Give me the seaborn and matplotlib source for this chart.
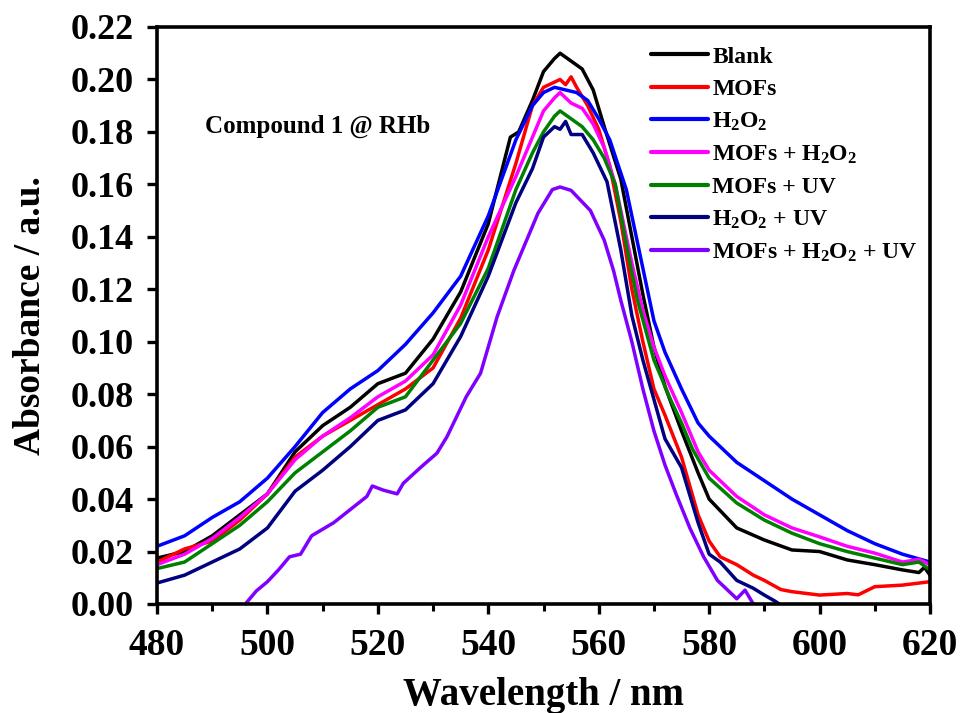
import numpy as np
import pandas as pd
import matplotlib
matplotlib.use("Agg")
import matplotlib.pyplot as plt
import seaborn as sns
from matplotlib.lines import Line2D

# ---------------- data ----------------
wl_blank = [480, 485, 490, 495, 500, 505, 510, 515, 520, 525, 530, 535, 540, 544, 545.5, 548, 550, 552, 553, 555, 557,
            559, 561, 564, 566, 568, 570, 572, 575, 578, 580, 585, 590, 595, 600, 605, 610, 615, 618, 619, 620]
abs_blank = [0.0175, 0.020, 0.026, 0.034, 0.042, 0.058, 0.068, 0.075, 0.084, 0.088, 0.101, 0.119, 0.145, 0.178, 0.180,
             0.192, 0.203, 0.208, 0.210, 0.207, 0.204, 0.196, 0.182, 0.162, 0.140, 0.118, 0.098, 0.083, 0.066, 0.050,
             0.040, 0.029, 0.0244, 0.0206, 0.020, 0.0168, 0.015, 0.013, 0.012, 0.014, 0.011]

wl_mofs = [480, 485, 490, 495, 500, 505, 510, 515, 520, 525, 530, 535, 540, 545, 548, 550, 552, 553, 554, 555, 556,
           558, 560, 562, 564, 566, 568, 570, 572, 575, 578, 580, 582, 585, 588, 590, 593, 595, 600, 605, 607, 610,
           615, 620]
abs_mofs = [0.016, 0.021, 0.024, 0.032, 0.042, 0.056, 0.064, 0.070, 0.076, 0.082, 0.090, 0.109, 0.135, 0.168, 0.190,
            0.197, 0.199, 0.200, 0.198, 0.201, 0.197, 0.190, 0.181, 0.167, 0.146, 0.120, 0.100, 0.082, 0.072, 0.056,
            0.034, 0.024, 0.018, 0.015, 0.011, 0.009, 0.0055, 0.0047, 0.0034, 0.004, 0.0035, 0.0066, 0.0072, 0.0085]

wl_h2o2 = [480, 485, 490, 495, 500, 505, 510, 515, 520, 525, 530, 535, 540, 545, 548, 550, 552, 554, 556, 558, 560,
           562, 565, 567.5, 570, 572, 575, 578, 580, 585, 590, 595, 600, 605, 610, 615, 620]
abs_h2o2 = [0.022, 0.026, 0.033, 0.039, 0.048, 0.060, 0.073, 0.082, 0.089, 0.099, 0.111, 0.125, 0.148, 0.177, 0.190,
            0.195, 0.197, 0.196, 0.195, 0.192, 0.185, 0.177, 0.158, 0.133, 0.108, 0.096, 0.082, 0.069, 0.064, 0.054,
            0.047, 0.040, 0.034, 0.028, 0.023, 0.019, 0.016]

wl_mofs_h2o2 = [480, 485, 490, 495, 500, 505, 510, 515, 520, 525, 530, 535, 540, 545, 548, 550, 552, 553, 555, 557,
                559, 561, 563, 566, 568, 570, 572, 575, 578, 580, 585, 590, 595, 600, 605, 610, 615, 618, 620]
abs_mofs_h2o2 = [0.015, 0.019, 0.025, 0.033, 0.042, 0.055, 0.064, 0.071, 0.079, 0.085, 0.095, 0.114, 0.140, 0.163,
                 0.178, 0.188, 0.193, 0.195, 0.191, 0.189, 0.183, 0.174, 0.160, 0.130, 0.112, 0.098, 0.087, 0.073,
                 0.058, 0.051, 0.041, 0.034, 0.029, 0.0256, 0.022, 0.0194, 0.016, 0.017, 0.015]

wl_mofs_uv = [480, 485, 490, 495, 500, 505, 510, 515, 520, 525, 530, 535, 540, 545, 548, 550, 552, 553, 555, 557,
              559, 561, 563, 565, 567, 570, 573, 575, 577, 580, 585, 590, 595, 600, 605, 610, 615, 618, 620]
abs_mofs_uv = [0.0135, 0.016, 0.023, 0.030, 0.039, 0.050, 0.058, 0.066, 0.075, 0.079, 0.093, 0.107, 0.128, 0.158,
               0.172, 0.180, 0.186, 0.188, 0.185, 0.182, 0.177, 0.170, 0.160, 0.137, 0.116, 0.093, 0.078, 0.069,
               0.059, 0.048, 0.0385, 0.032, 0.027, 0.023, 0.020, 0.0175, 0.015, 0.016, 0.013]

wl_h2o2_uv = [480, 485, 490, 495, 500, 505, 510, 515, 520, 525, 530, 535, 540, 545, 548, 550, 552, 553, 554, 555,
              557, 559, 561.5, 564, 566, 568, 570, 572, 575, 578, 580, 582, 585, 588, 590, 592, 594, 600, 620]
abs_h2o2_uv = [0.008, 0.011, 0.016, 0.021, 0.029, 0.043, 0.051, 0.060, 0.070, 0.074, 0.084, 0.102, 0.125, 0.153,
               0.166, 0.178, 0.182, 0.181, 0.184, 0.179, 0.179, 0.172, 0.161, 0.135, 0.110, 0.093, 0.078, 0.063,
               0.052, 0.031, 0.019, 0.016, 0.009, 0.006, 0.0034, 0.001, -0.002, -0.006, -0.010]

wl_all = [480, 485, 490, 494, 495, 496, 498, 500, 502, 504, 506, 508, 512, 515, 518, 519, 521, 523.5, 524.6, 527.7,
          530.7, 532.5, 536, 538.6, 541.6, 544.6, 546.4, 549, 551.6, 553, 555, 558.5, 561, 562.7, 564, 566, 568,
          570, 572, 574, 576.5, 579, 581.5, 584, 585, 586.5, 588, 590, 620]
abs_all = [-0.012, -0.008, -0.004, -0.0003, -0.002, 0.0, 0.005, 0.0085, 0.013, 0.018, 0.019, 0.026, 0.031, 0.036,
           0.041, 0.045, 0.0434, 0.042, 0.046, 0.052, 0.0575, 0.0637, 0.079, 0.088, 0.1095, 0.127, 0.136, 0.149,
           0.158, 0.159, 0.1577, 0.150, 0.1387, 0.127, 0.1158, 0.100, 0.082, 0.066, 0.053, 0.042, 0.029, 0.018,
           0.009, 0.004, 0.002, 0.0053, 0.0, -0.004, -0.020]

labels = ["Blank", "MOFs", "H$_2$O$_2$", "MOFs + H$_2$O$_2$", "MOFs + UV", "H$_2$O$_2$ + UV",
          "MOFs + H$_2$O$_2$ + UV"]
colors = ["#000000", "#FF0000", "#0000FF", "#FF00FF", "#008000", "#000080", "#8000FF"]
series_wl = [wl_blank, wl_mofs, wl_h2o2, wl_mofs_h2o2, wl_mofs_uv, wl_h2o2_uv, wl_all]
series_abs = [abs_blank, abs_mofs, abs_h2o2, abs_mofs_h2o2, abs_mofs_uv, abs_h2o2_uv, abs_all]

xticks = [480, 500, 520, 540, 560, 580, 600, 620]
yticks = [0.00, 0.02, 0.04, 0.06, 0.08, 0.10, 0.12, 0.14, 0.16, 0.18, 0.20, 0.22]

# ---------------- long table ----------------
frames = []
for lab, w, a in zip(labels, series_wl, series_abs):
    frames.append(pd.DataFrame({"Wavelength": w, "Absorbance": a, "Sample": lab}))
df = pd.concat(frames, ignore_index=True)

# ---------------- style ----------------
sns.set_theme(style="ticks")
plt.rcParams["font.family"] = ["Liberation Serif", "DejaVu Serif"]
plt.rcParams["font.weight"] = "bold"
plt.rcParams["text.color"] = "black"
plt.rcParams["axes.labelcolor"] = "black"
plt.rcParams["xtick.color"] = "black"
plt.rcParams["ytick.color"] = "black"
plt.rcParams["mathtext.fontset"] = "custom"
plt.rcParams["mathtext.rm"] = "Liberation Serif:bold"
plt.rcParams["mathtext.bf"] = "Liberation Serif:bold"
plt.rcParams["mathtext.it"] = "Liberation Serif:bold"
plt.rcParams["mathtext.default"] = "rm"

fig = plt.figure(figsize=(9.63, 7.13), dpi=100)
ax = fig.add_axes([157 / 963, 1 - 604 / 713, (930 - 157) / 963, (604 - 27) / 713])

sns.lineplot(data=df, x="Wavelength", y="Absorbance", hue="Sample", hue_order=labels,
             palette=dict(zip(labels, colors)), linewidth=2.5, sort=False, estimator=None,
             legend=False, ax=ax)

ax.set_xlim(480, 620)
ax.set_ylim(0, 0.22)
ax.set_xticks(xticks)
ax.set_xticks([490, 510, 530, 550, 570, 590, 610], minor=True)
ax.set_yticks(yticks)
ax.set_xticklabels([str(v) for v in xticks], fontsize=27, fontweight="bold", color="black")
ax.set_yticklabels([f"{v:.2f}" for v in yticks], fontsize=26, fontweight="bold", color="black")
ax.tick_params(axis="x", which="major", direction="out", length=7, width=2.4, pad=10)
ax.tick_params(axis="y", which="major", direction="out", length=7, width=2.4, pad=10)
ax.tick_params(axis="x", which="minor", direction="out", length=5, width=2.2)
for s in ax.spines.values():
    s.set_linewidth(2.6)
    s.set_color("black")

ax.set_xlabel("Wavelength / nm", fontsize=28, fontweight="bold", labelpad=10, color="black")
ax.set_ylabel("Absorbance / a.u.", fontsize=27, fontweight="bold", labelpad=16, color="black")

ax.text(488.7, 0.182, "Compound 1 @ RHb", fontsize=18, fontweight="bold", ha="left", va="center",
        color="black")

handles = [Line2D([0], [0], color=c, lw=3.0) for c in colors]
leg = ax.legend(handles, labels, loc="upper left", bbox_to_anchor=(0.633, 0.975), frameon=False,
                prop={"family": "Liberation Serif", "weight": "bold", "size": 17},
                handlelength=2.4, handletextpad=0.2, labelspacing=0.45, borderaxespad=0, borderpad=0.2)
for t in leg.get_texts():
    t.set_color("black")

fig.savefig("out.png", dpi=100, facecolor="white")
